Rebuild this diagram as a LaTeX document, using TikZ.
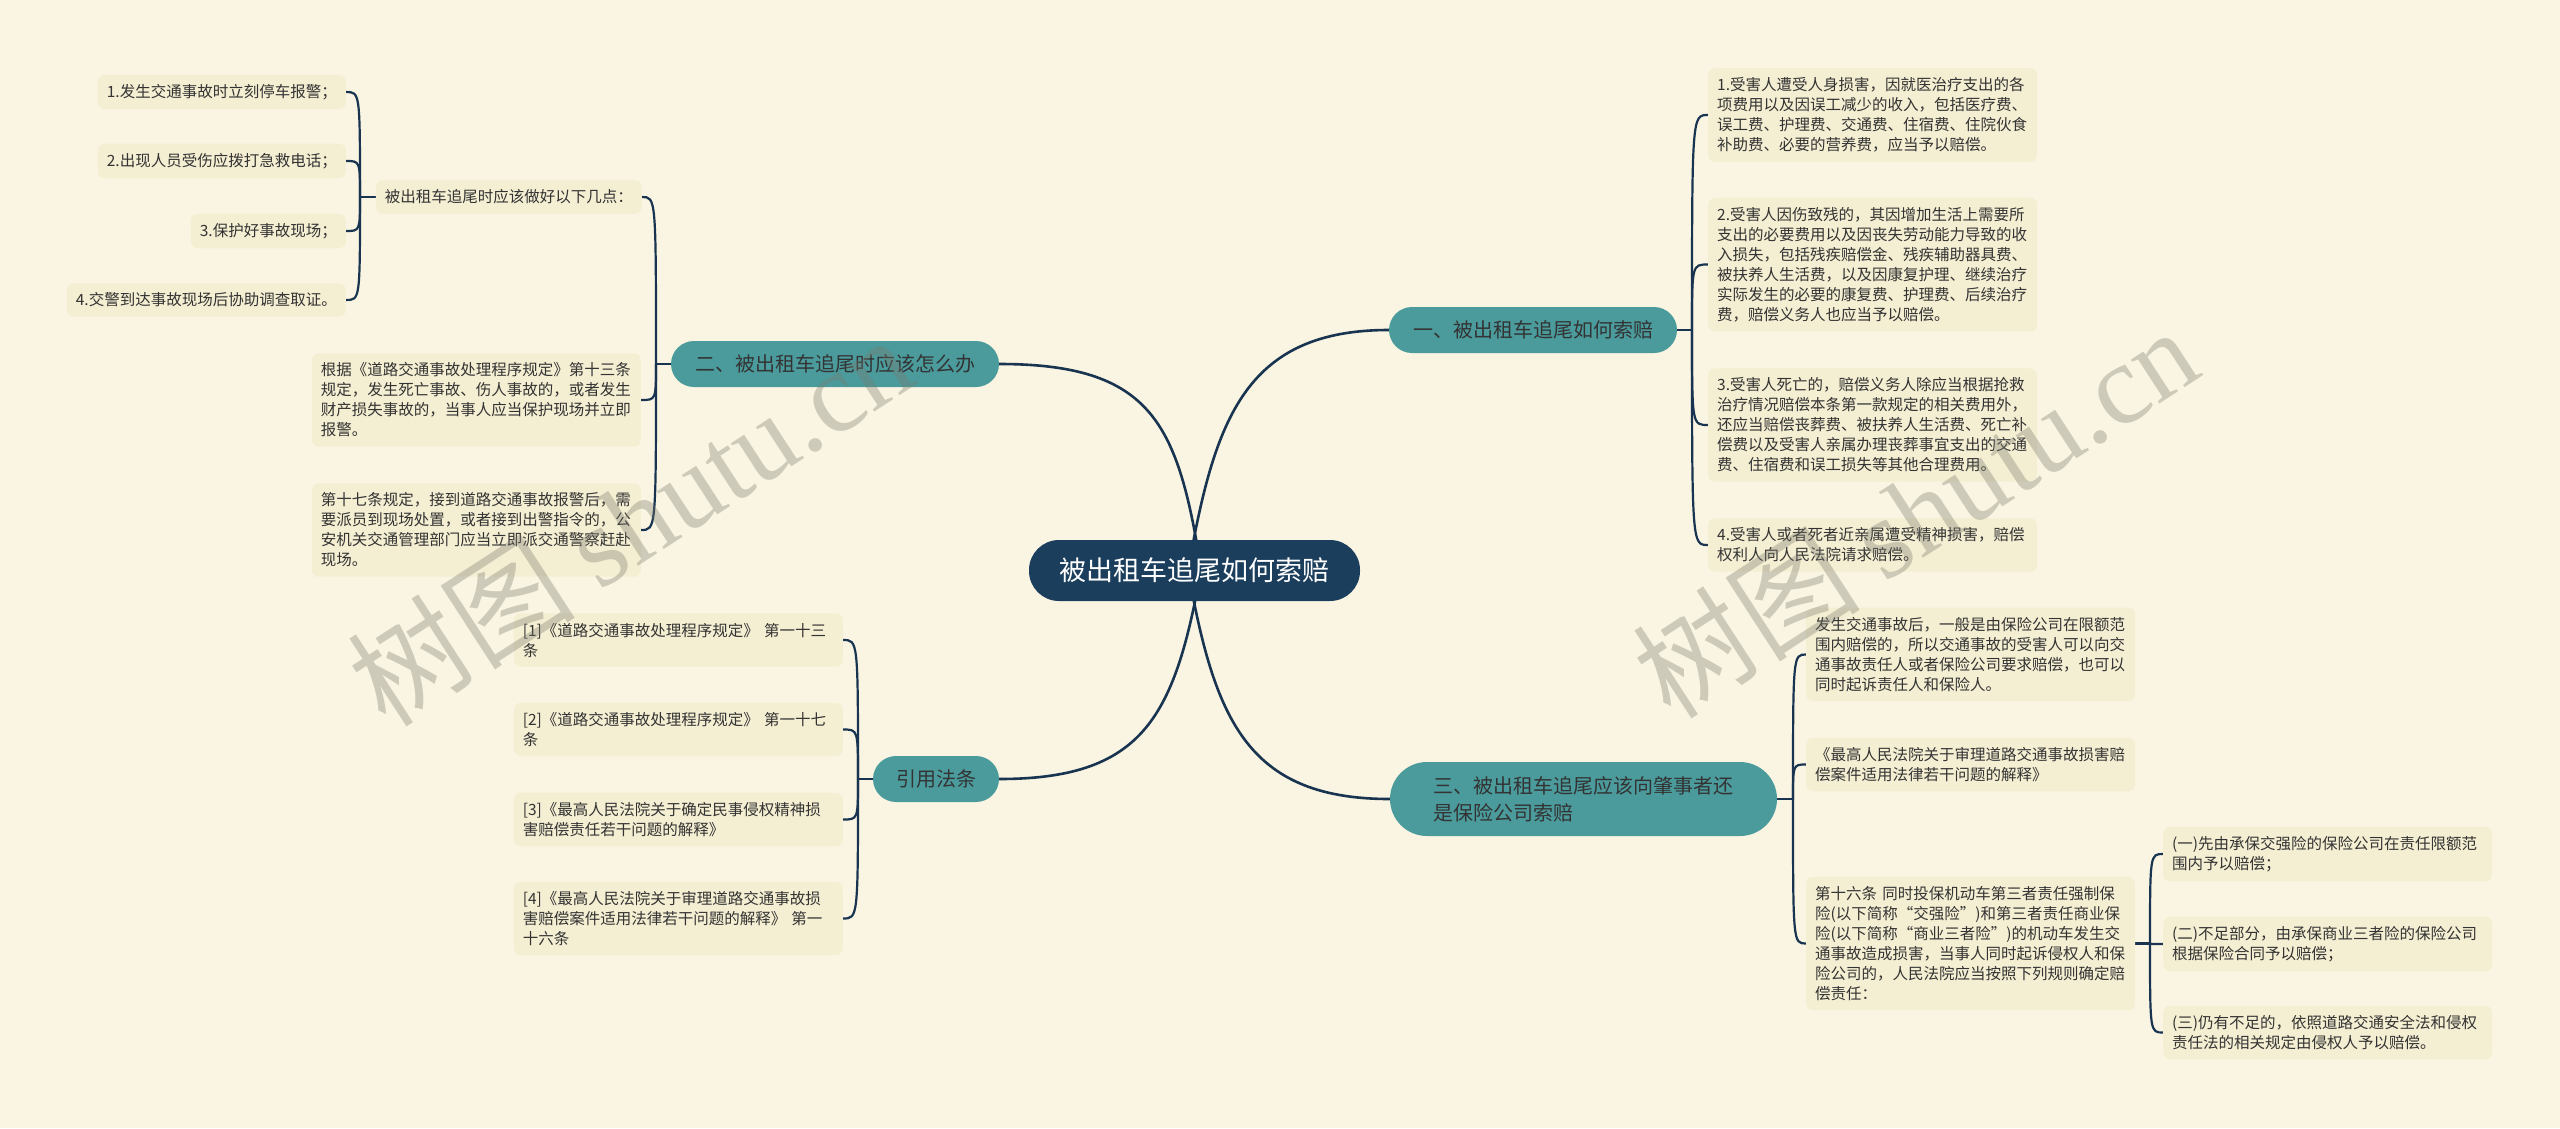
\documentclass[tikz,border=0pt]{standalone}
\usepackage{fontspec}
\setmainfont{Noto Sans CJK SC}
\newfontfamily\wmlatin{Liberation Serif}
\usetikzlibrary{calc}
\definecolor{bgc}{RGB}{250,245,226}
\definecolor{leafc}{RGB}{244,238,210}
\definecolor{tealc}{RGB}{75,155,157}
\definecolor{navyc}{RGB}{27,62,92}
\definecolor{linec}{RGB}{24,52,80}
\definecolor{txtc}{RGB}{51,51,51}
\definecolor{wmc}{RGB}{120,120,108}
\pgfdeclarelayer{back}
\pgfsetlayers{back,main}
\tikzset{
  leaf/.style={fill=leafc, rounded corners=7pt, inner xsep=9pt, inner ysep=9.5pt,
    font=\fontsize{15.5}{20}\selectfont, text=txtc, align=left},
  wide/.style={text width=311pt},
  branch/.style={fill=tealc, inner sep=0pt, font=\fontsize{20}{27}\selectfont,
    text=txtc, align=center, minimum height=46pt, rounded corners=23pt},
  conn/.style={draw=linec, line width=2.2pt},
  mainconn/.style={draw=linec, line width=2.6pt},
  wm/.style={rotate=33, text=wmc, opacity=0.34, inner sep=0pt,
    font=\fontsize{114}{120}\selectfont},
}
\begin{document}
\begin{tikzpicture}[x=1pt, y=-1pt]
\useasboundingbox (0,0) rectangle (2560,1128);

% root
\node[fill=navyc, text=white, rounded corners=30pt, minimum width=331pt, minimum height=61pt,
  inner sep=0pt, font=\fontsize{27}{32}\selectfont] (root) at (1194.5,570.5) {被出租车追尾如何索赔};

% branches
\node[branch, minimum width=288pt] (B1) at (1533,330) {一、被出租车追尾如何索赔};
\node[branch, minimum width=328pt] (B2) at (835,364) {二、被出租车追尾时应该怎么办};
\node[branch, minimum height=74pt, rounded corners=37pt, text width=300pt, inner xsep=43.5pt,
  align=left] (B3) at (1583.5,799) {三、被出租车追尾应该向肇事者还\\是保险公司索赔};
\node[branch, minimum width=126pt] (B4) at (936,779) {引用法条};

% branch 2 leaves
\node[leaf, anchor=east] (L0) at (642,197) {被出租车追尾时应该做好以下几点：};
\node[leaf, anchor=east] (L1) at (346,92) {1.发生交通事故时立刻停车报警；};
\node[leaf, anchor=east] (L2) at (346,161) {2.出现人员受伤应拨打急救电话；};
\node[leaf, anchor=east] (L3) at (346,231) {3.保护好事故现场；};
\node[leaf, anchor=east] (L4) at (346,300) {4.交警到达事故现场后协助调查取证。};
\node[leaf, wide, anchor=east] (L5) at (641,400) {根据《道路交通事故处理程序规定》第十三条\\规定，发生死亡事故、伤人事故的，或者发生\\财产损失事故的，当事人应当保护现场并立即\\报警。};
\node[leaf, wide, anchor=east] (L6) at (641,530) {第十七条规定，接到道路交通事故报警后，需\\要派员到现场处置，或者接到出警指令的，公\\安机关交通管理部门应当立即派交通警察赶赴\\现场。};

% branch 1 leaves
\node[leaf, wide, anchor=west] (R1) at (1708,115) {1.受害人遭受人身损害，因就医治疗支出的各\\项费用以及因误工减少的收入，包括医疗费、\\误工费、护理费、交通费、住宿费、住院伙食\\补助费、必要的营养费，应当予以赔偿。};
\node[leaf, wide, anchor=west] (R2) at (1708,264.5) {2.受害人因伤致残的，其因增加生活上需要所\\支出的必要费用以及因丧失劳动能力导致的收\\入损失，包括残疾赔偿金、残疾辅助器具费、\\被扶养人生活费，以及因康复护理、继续治疗\\实际发生的必要的康复费、护理费、后续治疗\\费，赔偿义务人也应当予以赔偿。};
\node[leaf, wide, anchor=west] (R3) at (1708,425) {3.受害人死亡的，赔偿义务人除应当根据抢救\\治疗情况赔偿本条第一款规定的相关费用外，\\还应当赔偿丧葬费、被扶养人生活费、死亡补\\偿费以及受害人亲属办理丧葬事宜支出的交通\\费、住宿费和误工损失等其他合理费用。};
\node[leaf, wide, anchor=west] (R4) at (1708,545) {4.受害人或者死者近亲属遭受精神损害，赔偿\\权利人向人民法院请求赔偿。};

% branch 3 leaves
\node[leaf, wide, anchor=west] (T1) at (1806,654.5) {发生交通事故后，一般是由保险公司在限额范\\围内赔偿的，所以交通事故的受害人可以向交\\通事故责任人或者保险公司要求赔偿，也可以\\同时起诉责任人和保险人。};
\node[leaf, wide, anchor=west] (T2) at (1806,764.5) {《最高人民法院关于审理道路交通事故损害赔\\偿案件适用法律若干问题的解释》};
\node[leaf, wide, anchor=west] (T3) at (1806,943.5) {第十六条 同时投保机动车第三者责任强制保\\险(以下简称“交强险”)和第三者责任商业保\\险(以下简称“商业三者险”)的机动车发生交\\通事故造成损害，当事人同时起诉侵权人和保\\险公司的，人民法院应当按照下列规则确定赔\\偿责任：};
\node[leaf, wide, anchor=west] (U1) at (2163,854) {(一)先由承保交强险的保险公司在责任限额范\\围内予以赔偿；};
\node[leaf, wide, anchor=west] (U2) at (2163,944) {(二)不足部分，由承保商业三者险的保险公司\\根据保险合同予以赔偿；};
\node[leaf, wide, anchor=west] (U3) at (2163,1032.5) {(三)仍有不足的，依照道路交通安全法和侵权\\责任法的相关规定由侵权人予以赔偿。};

% citations
\node[leaf, wide, anchor=east] (Q1) at (843,640) {[1]《道路交通事故处理程序规定》 第一十三\\条};
\node[leaf, wide, anchor=east] (Q2) at (843,729.5) {[2]《道路交通事故处理程序规定》 第一十七\\条};
\node[leaf, wide, anchor=east] (Q3) at (843,819.5) {[3]《最高人民法院关于确定民事侵权精神损\\害赔偿责任若干问题的解释》};
\node[leaf, wide, anchor=east] (Q4) at (843,918.5) {[4]《最高人民法院关于审理道路交通事故损\\害赔偿案件适用法律若干问题的解释》 第一\\十六条};

% stubs
\coordinate (s1) at (1692,330);
\coordinate (s2) at (656,364);
\coordinate (s0) at (360,197);
\coordinate (s3) at (1793,799);
\coordinate (s6) at (2150,943.5);
\coordinate (s4) at (858,779);
\coordinate (r1) at (1184.5,590.5);
\coordinate (r2) at (1204.5,590.5);
\coordinate (r3) at (1184.5,550.5);
\coordinate (r4) at (1204.5,550.5);

\begin{pgfonlayer}{back}
\fill[bgc] (0,0) rectangle (2560,1128);
% main curves
\draw[mainconn] (r1) .. controls (1212,430) and (1237,330) .. (B1.west);
\draw[mainconn] (r2) .. controls (1180,430) and (1160,364) .. (B2.east);
\draw[mainconn] (r3) .. controls (1212,711) and (1240,799) .. (B3.west);
\draw[mainconn] (r4) .. controls (1177,711) and (1150,779) .. (B4.east);
% branch 1
\draw[conn] (B1.east) -- (s1);
\foreach \c in {R1,R2,R3,R4} \draw[conn] (s1) .. controls (s1 |- \c.west) .. (\c.west);
% branch 2
\draw[conn] (B2.west) -- (s2);
\foreach \c in {L0,L5,L6} \draw[conn] (s2) .. controls (s2 |- \c.east) .. (\c.east);
\draw[conn] (L0.west) -- (s0);
\foreach \c in {L1,L2,L3,L4} \draw[conn] (s0) .. controls (s0 |- \c.east) .. (\c.east);
% branch 3
\draw[conn] (B3.east) -- (s3);
\foreach \c in {T1,T2,T3} \draw[conn] (s3) .. controls (s3 |- \c.west) .. (\c.west);
\draw[conn] (T3.east) -- (s6);
\foreach \c in {U1,U2,U3} \draw[conn] (s6) .. controls (s6 |- \c.west) .. (\c.west);
% citations
\draw[conn] (B4.west) -- (s4);
\foreach \c in {Q1,Q2,Q3,Q4} \draw[conn] (s4) .. controls (s4 |- \c.east) .. (\c.east);
\end{pgfonlayer}

% watermarks
\node[wm] (W1) at (630,520) {树图 {\wmlatin shutu.cn}};
\node[wm] (W2) at (1915,512) {树图 {\wmlatin shutu.cn}};
\end{tikzpicture}
\end{document}
